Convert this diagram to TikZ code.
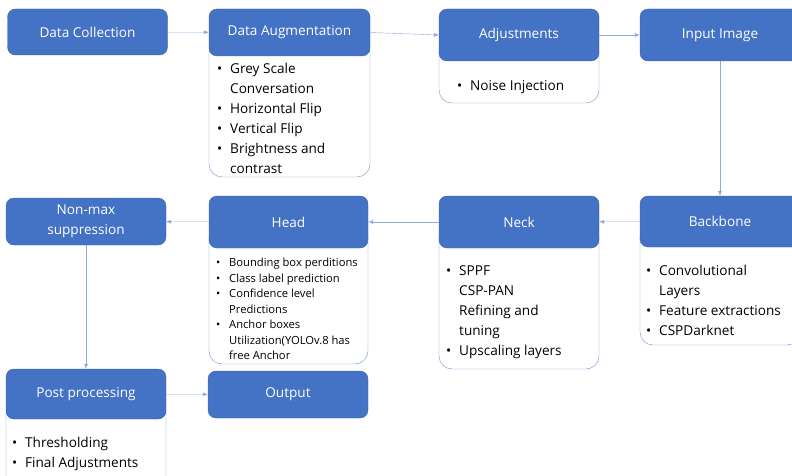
\documentclass[tikz,border=0pt]{standalone}
\usepackage{fontspec}
\setmainfont{Open Sans}
\usetikzlibrary{arrows.meta}

\definecolor{hdblue}{HTML}{4472C4}
\definecolor{hdedge}{HTML}{3B65B3}
\definecolor{bdblue}{HTML}{6F8FCC}
\definecolor{lnblue}{HTML}{8FAADC}

\newcommand{\blt}{\makebox[13pt][l]{\textbullet}}
\newcommand{\nob}{\hspace*{13pt}}

\begin{document}
\begin{tikzpicture}[x=1pt, y=-1pt,
  head/.style={draw=hdedge, fill=hdblue, rounded corners=8pt, text=white,
    font=\fontsize{13.6}{20}\selectfont, align=center, inner sep=0pt,
    minimum width=160pt},
  body/.style={draw=bdblue, fill=white, rounded corners=13pt},
  items/.style={anchor=north west, align=left, inner sep=0pt,
    font=\fontsize{13.6}{20}\selectfont},
  small items/.style={items, font=\fontsize{11.2}{15.5}\selectfont},
  flow/.style={draw=lnblue, -{Latex[length=5pt,width=4pt]}}]

\useasboundingbox (0,0) rectangle (792,476);
\clip (0,0) rectangle (792,476);

%Data Collection
\node[head, minimum height=46pt] (dc) at (87.5,32) {Data Collection};

%Data Augmentation
\draw[body] (209,40) rectangle (370,177);
\node[head, minimum width=161pt, minimum height=47pt] (da) at (289.5,32.5) {Data Augmentation};
\node[items] (da-list) at (217,63) {\blt Grey Scale\\\nob Conversation\\\blt Horizontal Flip\\\blt Vertical Flip\\\blt Brightness and\\\nob contrast};

%Adjustments
\draw[body] (439,40) rectangle (599,103);
\node[head, minimum height=52pt] (adj) at (519,35) {Adjustments};
\node[items] (adj-list) at (457,80) {\blt Noise Injection};

%Input Image
\node[head, minimum height=52pt] (inp) at (720,35) {Input Image};

%%Second row
%Backbone
\draw[body] (640,225) rectangle (800,345);
\node[head, minimum height=51pt] (bb) at (720,221.5) {Backbone};
\node[items] (bb-list) at (646,265) {\blt Convolutional\\\nob Layers\\\blt Feature extractions\\\blt CSPDarknet};

%Neck
\draw[body] (439,225) rectangle (599,369);
\node[head, minimum height=52pt] (neck) at (519,222) {Neck};
\node[items] (neck-list) at (446,265) {\blt SPPF\\\nob CSP-PAN\\\nob Refining and\\\nob tuning\\\blt Upscaling layers};

%Head
\draw[body] (209,225) rectangle (368,364);
\node[head, minimum width=159pt, minimum height=52pt] (hd) at (288.5,222) {Head};
\node[small items] (hd-list) at (216,258) {\blt Bounding box perditions\\\blt Class label prediction\\\blt Confidence level\\\nob Predictions\\\blt Anchor boxes\\\nob Utilization(YOLOv.8 has\\\nob free Anchor};

%Non-max suppression
\node[head, minimum height=47pt] (nms) at (86,221.5) {Non-max\\suppression};

%%Third row
%Post processing
\draw[body] (6,400) rectangle (166,490);
\node[head, minimum height=50pt] (pp) at (86,394) {Post processing};
\node[items] (pp-list) at (12,437) {\blt Thresholding\\\blt Final Adjustments};

%Output
\node[head, minimum height=47pt] (out) at (288,394.5) {Output};

%%Arrows
\draw[flow] (dc) -- (da);
\draw[flow] (da.east) -- (adj.west);
\draw[flow] (adj) -- (inp);
\draw[flow] (inp) -- (bb);
\draw[flow] (bb) -- (neck);
\draw[flow] (neck) -- (hd);
\draw[flow] (hd) -- (nms);
\draw[flow] (nms) -- (pp);
\draw[flow] (pp) -- (out);
\end{tikzpicture}
\end{document}
